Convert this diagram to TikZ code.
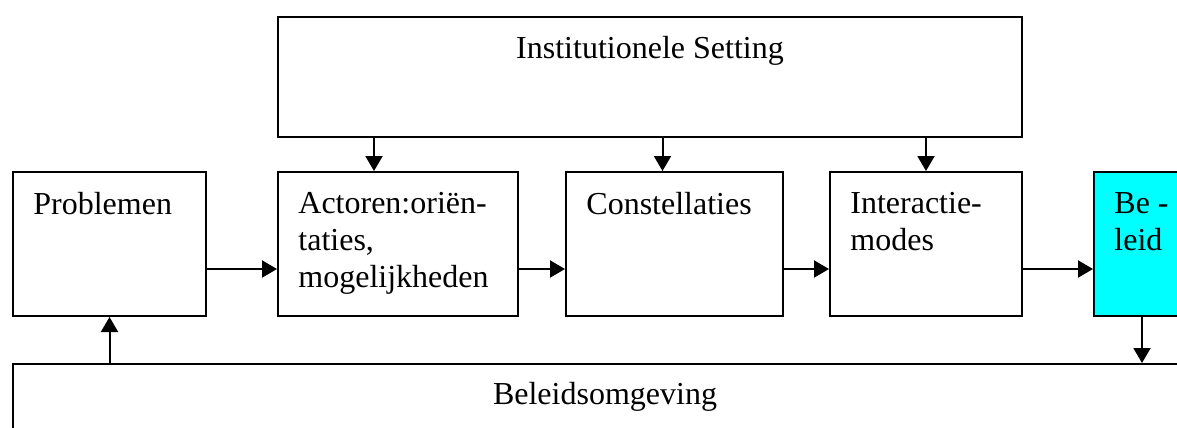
\documentclass[tikz,border=0pt]{standalone}
\usepackage{fontspec}
\setmainfont{Liberation Serif}
\usetikzlibrary{arrows.meta}
\definecolor{beleidcyan}{RGB}{0,255,255}
\begin{document}
\begin{tikzpicture}[x=0.5pt, y=-0.5pt,
	box/.style={draw, line width=1pt, rectangle, anchor=north west, inner sep=0pt, minimum height=72pt},
	txt/.style={anchor=north west, inner sep=0pt, align=left, font=\fontsize{16}{18.5}\selectfont},
	arr/.style={line width=1pt, -{Triangle[length=7.5pt, width=8.5pt]}}]

	\useasboundingbox (0,0) rectangle (1177,428);
	\clip (0,0) rectangle (1177,428);
	\node[box, minimum width=372pt, minimum height=60pt]	(inst)	at (277,16)	{};
	\node[box, minimum width=96.5pt]	(prob)	at (12,171)	{};
	\node[box, minimum width=120pt]	(act)	at (277,171)	{};
	\node[box, minimum width=108.5pt]	(con)	at (565,171)	{};
	\node[box, minimum width=96pt]	(inter)	at (829,171)	{};
	\node[box, minimum width=60pt, fill=beleidcyan]	(beleid)	at (1093,171)	{};
	\node[box, minimum width=592pt, minimum height=50pt]	(omg)	at (12,363)	{};

	\node[txt, anchor=base]	(inst-t)	at ([yshift=-21pt]inst.north)	{Institutionele Setting};
	\node[txt]	(prob-t)	at ([shift={(10.5pt,-10.5pt)}]prob.north west)	{Problemen};
	\node[txt]	(act-t)	at ([shift={(10.5pt,-10.5pt)}]act.north west)	{Actoren:oriën-\\taties,\\mogelijkheden};
	\node[txt]	(con-t)	at ([shift={(10.5pt,-10.5pt)}]con.north west)	{Constellaties};
	\node[txt]	(inter-t)	at ([shift={(10.5pt,-10.5pt)}]inter.north west)	{Interactie-\\modes};
	\node[txt]	(beleid-t)	at ([shift={(10.5pt,-10.5pt)}]beleid.north west)	{Be -\\leid};
	\node[txt, anchor=base]	(omg-t)	at ([yshift=-20.5pt]omg.north)	{Beleidsomgeving};

	\draw[arr] ([yshift=-12.5pt]prob.east) -- ([yshift=-12.5pt]act.west);
	\draw[arr] ([yshift=-12.5pt]act.east) -- ([yshift=-12.5pt]con.west);
	\draw[arr] ([yshift=-12.5pt]con.east) -- ([yshift=-12.5pt]inter.west);
	\draw[arr] ([yshift=-12.5pt]inter.east) -- ([yshift=-12.5pt]beleid.west);
	\draw[arr] ([xshift=-12pt]act.north |- inst.south) -- ([xshift=-12pt]act.north);
	\draw[arr] ([xshift=-6pt]con.north |- inst.south) -- ([xshift=-6pt]con.north);
	\draw[arr] (inter.north |- inst.south) -- (inter.north);
	\draw[arr] (prob.south |- omg.north) -- (prob.south);
	\draw[arr] ([xshift=24.5pt]beleid.south west) -- ([xshift=24.5pt]beleid.south west |- omg.north);
\end{tikzpicture}
\end{document}
